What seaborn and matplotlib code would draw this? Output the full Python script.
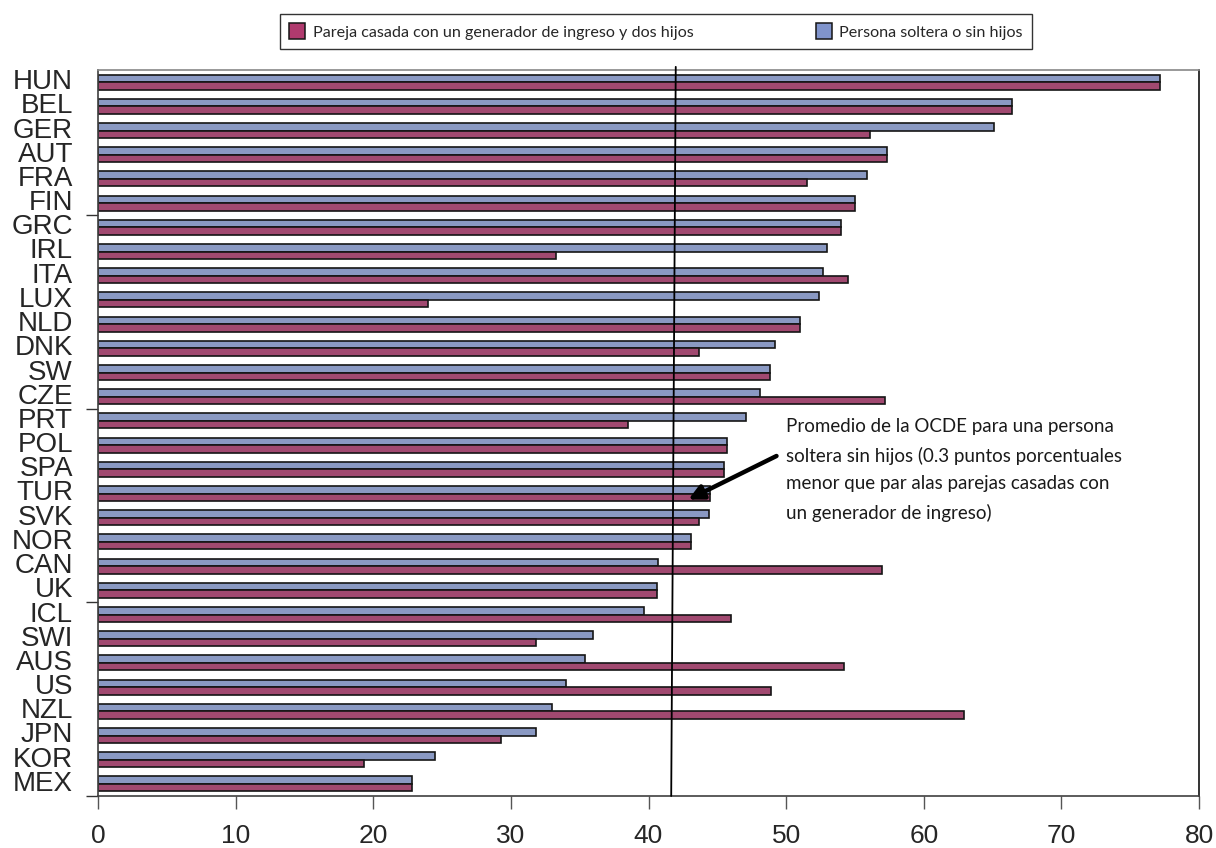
import matplotlib
matplotlib.use("Agg")
import matplotlib.pyplot as plt
from matplotlib.patches import Patch
import seaborn as sns
import pandas as pd

countries = ["HUN", "BEL", "GER", "AUT", "FRA", "FIN", "GRC", "IRL", "ITA", "LUX",
             "NLD", "DNK", "SW", "CZE", "PRT", "POL", "SPA", "TUR", "SVK", "NOR",
             "CAN", "UK", "ICL", "SWI", "AUS", "US", "NZL", "JPN", "KOR", "MEX"]
single = [77.2, 66.4, 65.1, 57.3, 55.9, 55.0, 54.0, 53.0, 52.7, 52.4,
          51.0, 49.2, 48.8, 48.1, 47.1, 45.7, 45.5, 44.5, 44.4, 43.1,
          40.7, 40.6, 39.7, 36.0, 35.4, 34.0, 33.0, 31.8, 24.5, 22.8]
married = [77.2, 66.4, 56.1, 57.3, 51.5, 55.0, 54.0, 33.3, 54.5, 24.0,
           51.0, 43.7, 48.8, 57.2, 38.5, 45.7, 45.5, 44.5, 43.7, 43.1,
           57.0, 40.6, 46.0, 31.8, 54.2, 48.9, 62.9, 29.3, 19.3, 22.8]
xticks = [0, 10, 20, 30, 40, 50, 60, 70, 80]
oecd_single_avg = 41.8

lbl_married = "Pareja casada con un generador de ingreso y dos hijos"
lbl_single = "Persona soltera o sin hijos"
note = ("Promedio de la OCDE para una persona\n"
        "soltera sin hijos (0.3 puntos porcentuales\n"
        "menor que par alas parejas casadas con\n"
        "un generador de ingreso)")

c_single = "#8094CC"
c_married = "#B03A6E"

df = pd.DataFrame({
    "country": countries * 2,
    "value": single + married,
    "series": [lbl_single] * len(countries) + [lbl_married] * len(countries),
})

sns.set_style("white")
plt.rcParams["font.family"] = ["Liberation Sans", "DejaVu Sans"]

fig = plt.figure(figsize=(12.16, 8.48), dpi=100)
ax = fig.add_axes([98 / 1216, 1 - 796 / 848, (1199 - 98) / 1216, (796 - 70) / 848])

sns.barplot(data=df, y="country", x="value", hue="series",
            hue_order=[lbl_single, lbl_married],
            palette=[c_single, c_married], orient="h", width=0.62,
            edgecolor="#151515", linewidth=1.2, legend=False, ax=ax)

ax.set_xlim(0, 80)
ax.set_ylim(len(countries) - 0.5, -0.5)
ax.set_xticks(xticks)
ax.set_xticklabels([str(t) for t in xticks], fontsize=19)
ax.set_xlabel("")
ax.set_ylabel("")
ax.tick_params(axis="x", direction="out", length=9, width=1, color="#555555",
               pad=11, bottom=True)
ax.tick_params(axis="y", length=0, pad=18, labelsize=20)
for lab in ax.get_yticklabels():
    lab.set_verticalalignment("center")

# boundary tick marks on the category axis
ax.set_yticks([5.5, 13.5, 21.5, 29.5], minor=True)
ax.tick_params(axis="y", which="minor", direction="out", length=9, width=1,
               color="#333333", left=True)

for side in ["left", "bottom"]:
    ax.spines[side].set_color("#404040")
    ax.spines[side].set_linewidth(1.2)
ax.spines["top"].set_color("#888888")
ax.spines["top"].set_linewidth(1.2)
ax.spines["right"].set_color("#111111")
ax.spines["right"].set_linewidth(1.2)

# OECD average reference line
ax.plot([oecd_single_avg - 0.15, oecd_single_avg + 0.18],
        [len(countries) - 0.5, -0.63],
        color="black", lw=1.3, clip_on=False, zorder=5)

ax.annotate("", xy=(42.9, 17.25), xytext=(49.3, 15.45),
            arrowprops=dict(arrowstyle="-|>", lw=3.2, color="black",
                            mutation_scale=22, shrinkA=0, shrinkB=0),
            zorder=6)

fig.text(786 / 1216, 1 - 418 / 848, note, ha="left", va="top",
         fontsize=13.5, family=["Lato", "DejaVu Sans"], linespacing=1.76,
         color="#1a1a1a")

handles = [Patch(facecolor=c_married, edgecolor="#151515", lw=1.1, label=lbl_married),
           Patch(facecolor=c_single, edgecolor="#151515", lw=1.1, label=lbl_single)]
leg = fig.legend(handles=handles, loc="center", bbox_to_anchor=(656 / 1216, 1 - 31.5 / 848),
                 ncol=2, frameon=True, fancybox=False, edgecolor="black",
                 prop={"family": ["Lato", "DejaVu Sans"], "size": 11.6},
                 handlelength=1.0, handleheight=1.15, handletextpad=0.45,
                 columnspacing=7.6, borderpad=0.6)
leg.get_frame().set_linewidth(1.0)

fig.savefig("out.png", dpi=100)
